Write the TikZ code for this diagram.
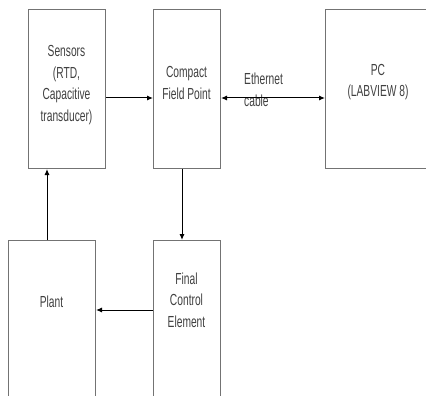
\documentclass[tikz,border=0pt]{standalone}
\usepackage{fontspec}
\newfontfamily\narrowsans[FakeStretch=0.64]{Liberation Sans}
\usetikzlibrary{arrows.meta}

\tikzset{
  blk/.style={draw=black!55, line width=1pt, anchor=north west, inner sep=0pt},
  txt/.style={font=\narrowsans\fontsize{16}{21.5}\selectfont, text=black!75, align=center, inner sep=0pt},
  sig/.style={line width=1pt},
}

\begin{document}
\begin{tikzpicture}[x=1pt,y=-1pt,>={Latex[length=6pt,width=5pt]}]
    \useasboundingbox (0,0) rectangle (426,396);
    \clip (0,0) rectangle (426,396);
    % upper row
    \node[blk, minimum width=77pt, minimum height=159pt] (sens) at (28,9) {};
    \node[blk, minimum width=67pt, minimum height=159pt] (cfp) at (153,9) {};
    \node[blk, minimum width=110pt, minimum height=159pt] (pc) at (325,9) {};
    % lower row (runs off the bottom)
    \node[blk, minimum width=87pt, minimum height=200pt] (plant) at (8,240) {};
    \node[blk, minimum width=67pt, minimum height=200pt] (fce) at (153,240) {};
    % texts
    \node[txt] (sensT) at (66.5,85) {Sensors\\(RTD,\\Capacitive\\transducer)};
    \node[txt] (cfpT) at (186.5,83) {Compact\\Field Point};
    \node[txt] (pcT) at (378,82) {PC\\(LABVIEW 8)};
    \node[txt] (plantT) at (51.5,302) {Plant};
    \node[txt] (fceT) at (186.5,300) {Final\\Control\\Element};
    \node[txt, align=left, anchor=west] (ethT) at (244,90) {Ethernet\\cable};
    % arrow rows / columns
    \coordinate (row1) at (0,98);
    \coordinate (row2) at (0,310);
    \coordinate (col1) at (47,0);
    \coordinate (col2) at (182,0);
    % connectors
    \draw[sig,->] (sens.east |- row1) -- (cfp.west |- row1);
    \draw[sig,<->] (cfp.east |- row1) -- (pc.west |- row1);
    \draw[sig,->] (cfp.south -| col2) -- (fce.north -| col2);
    \draw[sig,->] (fce.west |- row2) -- (plant.east |- row2);
    \draw[sig,->] (plant.north -| col1) -- (sens.south -| col1);
\end{tikzpicture}
\end{document}
